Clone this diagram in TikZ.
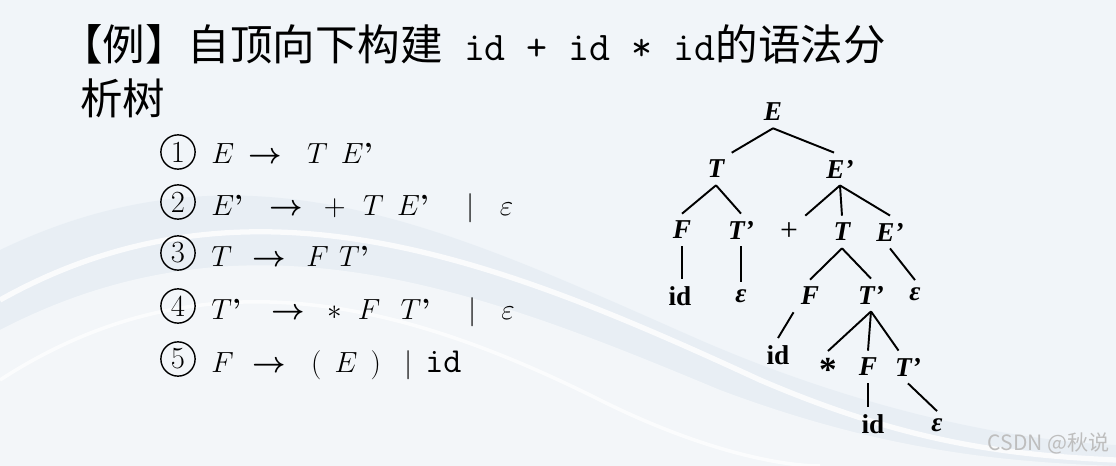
\RequirePackage{fix-cm}
\documentclass[tikz,border=0pt]{standalone}
\usepackage{fontspec}
\newfontfamily\cjk{Noto Sans CJK SC}
\newfontfamily\treefont{Liberation Serif}
\usetikzlibrary{positioning}
\definecolor{bgbase}{RGB}{241,245,249}
\definecolor{band}{RGB}{226,234,242}
\definecolor{mark}{RGB}{190,190,190}
\begin{document}
\begin{tikzpicture}[x=0.02cm, y=-0.02cm,
  sym/.style={font=\treefont\bfseries\itshape\fontsize{15.5}{18}\selectfont, inner sep=4pt},
  op/.style={sym, font=\treefont\upshape\fontsize{18}{20}\selectfont},
  numcirc/.style={circle, draw, line width=.8pt, minimum size=19.5pt, inner sep=0pt, font=\fontsize{17.5}{20}\selectfont},
  prod/.style={anchor=base west, inner sep=0pt, font=\fontsize{16.6}{18}\selectfont},
  branch/.style={line width=1.1pt}]
\useasboundingbox (0,0) rectangle (1116,466);
% background
\fill[bgbase] (0,0) rectangle (1116,466);
\fill[band, opacity=.6] (0,250) .. controls (250,130) and (450,230) .. (700,340) .. controls (850,405) and (1000,440) .. (1116,445) -- (1116,466) -- (0,466) -- cycle;
\fill[white, opacity=.5] (0,330) .. controls (250,200) and (480,290) .. (720,390) .. controls (880,450) and (1000,462) .. (1116,466) -- (0,466) -- cycle;
\draw[white, line width=3pt, opacity=.8] (0,300) .. controls (250,160) and (500,260) .. (760,380) .. controls (900,440) and (1000,455) .. (1116,460);
\draw[white, line width=2pt, opacity=.7] (0,380) .. controls (200,250) and (400,300) .. (600,400) .. controls (700,450) and (780,466) .. (820,466);

% title
\node[anchor=base west, inner sep=0pt, font=\fontsize{24.2}{28}\selectfont] (title1) at (60,61)
  {{\cjk 【例】自顶向下构建}{\ttfamily\fontsize{23.2}{28}\selectfont{} id + id * id}{\cjk 的语法分}};
\node[anchor=base west, inner sep=0pt, font=\cjk\fontsize{24.2}{28}\selectfont] (title2) at (80,114) {析树};

% productions
\node[numcirc] (c1) at (178,152) {1};
\node[numcirc] (c2) at (178,202) {2};
\node[numcirc] (c3) at (178,253) {3};
\node[numcirc] (c4) at (178,306) {4};
\node[numcirc] (c5) at (178,359) {5};
\node[prod] (p1) at (211,164) {$E$\hspace{.5em}{\boldmath$\rightarrow$}\hspace{.85em}$T$\hspace{.45em}$E$\textbf{’}};
\node[prod] (p2) at (211,215) {$E$\textbf{’}\hspace{.9em}{\boldmath$\rightarrow$}\hspace{.7em}$+$\hspace{.6em}$T$\hspace{.45em}$E$\textbf{’}\hspace{1.3em}$|$\hspace{.85em}$\varepsilon$};
\node[prod] (p3) at (211,266) {$T$\hspace{.7em}{\boldmath$\rightarrow$}\hspace{.7em}$F$\hspace{.35em}$T$\textbf{’}};
\node[prod] (p4) at (211,319) {$T$\textbf{’}\hspace{1.05em}{\boldmath$\rightarrow$}\hspace{.75em}$\ast$\hspace{.55em}$F$\hspace{.7em}$T$\textbf{’}\hspace{1.3em}$|$\hspace{.85em}$\varepsilon$};
\node[prod] (p5) at (211,372) {$F$\hspace{.65em}{\boldmath$\rightarrow$}\hspace{.85em}(\hspace{.45em}$E$\hspace{.45em})\hspace{.8em}$|$\hspace{.45em}{\ttfamily\fontsize{20}{22}\selectfont id}};

% parse tree
\node[sym] (E) at (773,112) {E};
\node[sym] (T1) at (716,169) {T};
\node[sym] (Ep1) at (840,169) {E’};
\node[sym] (F1) at (682,230) {F};
\node[sym] (Tp1) at (741,230) {T’};
\node[op] (plus) at (789,232) {+};
\node[sym] (T2) at (842,232) {T};
\node[sym] (Ep2) at (890,232) {E’};
\node[sym] (id1) at (680,296) {\upshape id};
\node[sym] (eps1) at (741,296) {ε};
\node[sym] (F2) at (810,296) {F};
\node[sym] (Tp2) at (871,295) {T’};
\node[sym] (eps2) at (915,294) {ε};
\node[sym] (id2) at (778,355) {\upshape id};
\node[sym, font=\treefont\bfseries\fontsize{20}{22}\selectfont] (star) at (828,370) {*};
\node[sym] (F3) at (868,367) {F};
\node[sym] (Tp3) at (908,367) {T’};
\node[sym] (id3) at (873,424) {\upshape id};
\node[sym] (eps3) at (937,425) {ε};

\draw[branch] (E.south) -- (T1.north east);
\draw[branch] (E.south) -- (Ep1.110);
\draw[branch] (T1.south) -- (F1.north);
\draw[branch] (T1.south) -- (Tp1.north);
\draw[branch] (Ep1.south) -- (plus.north east);
\draw[branch] (Ep1.south) -- (T2.north);
\draw[branch] (Ep1.south) -- (Ep2.north);
\draw[branch] (F1.south) -- (F1.south |- id1.north);
\draw[branch] (Tp1.south) -- (Tp1.south |- eps1.north);
\draw[branch] (T2.south) -- (F2.north);
\draw[branch] (T2.south) -- (Tp2.north);
\draw[branch] (Ep2.south) -- (eps2.north);
\draw[branch] (F2.south west) -- (id2.north);
\draw[branch] (Tp2.south) -- (star.north);
\draw[branch] (Tp2.south) -- (F3.north);
\draw[branch] (Tp2.south) -- (Tp3.120);
\draw[branch] (F3.south) -- (F3.south |- id3.north);
\draw[branch] (Tp3.south) -- (eps3.north);

% watermark
\node[anchor=base east, inner sep=0pt, text=mark, font=\cjk\fontsize{12}{14}\selectfont] (wm) at (1110,450) {CSDN @秋说};
\end{tikzpicture}
\end{document}
